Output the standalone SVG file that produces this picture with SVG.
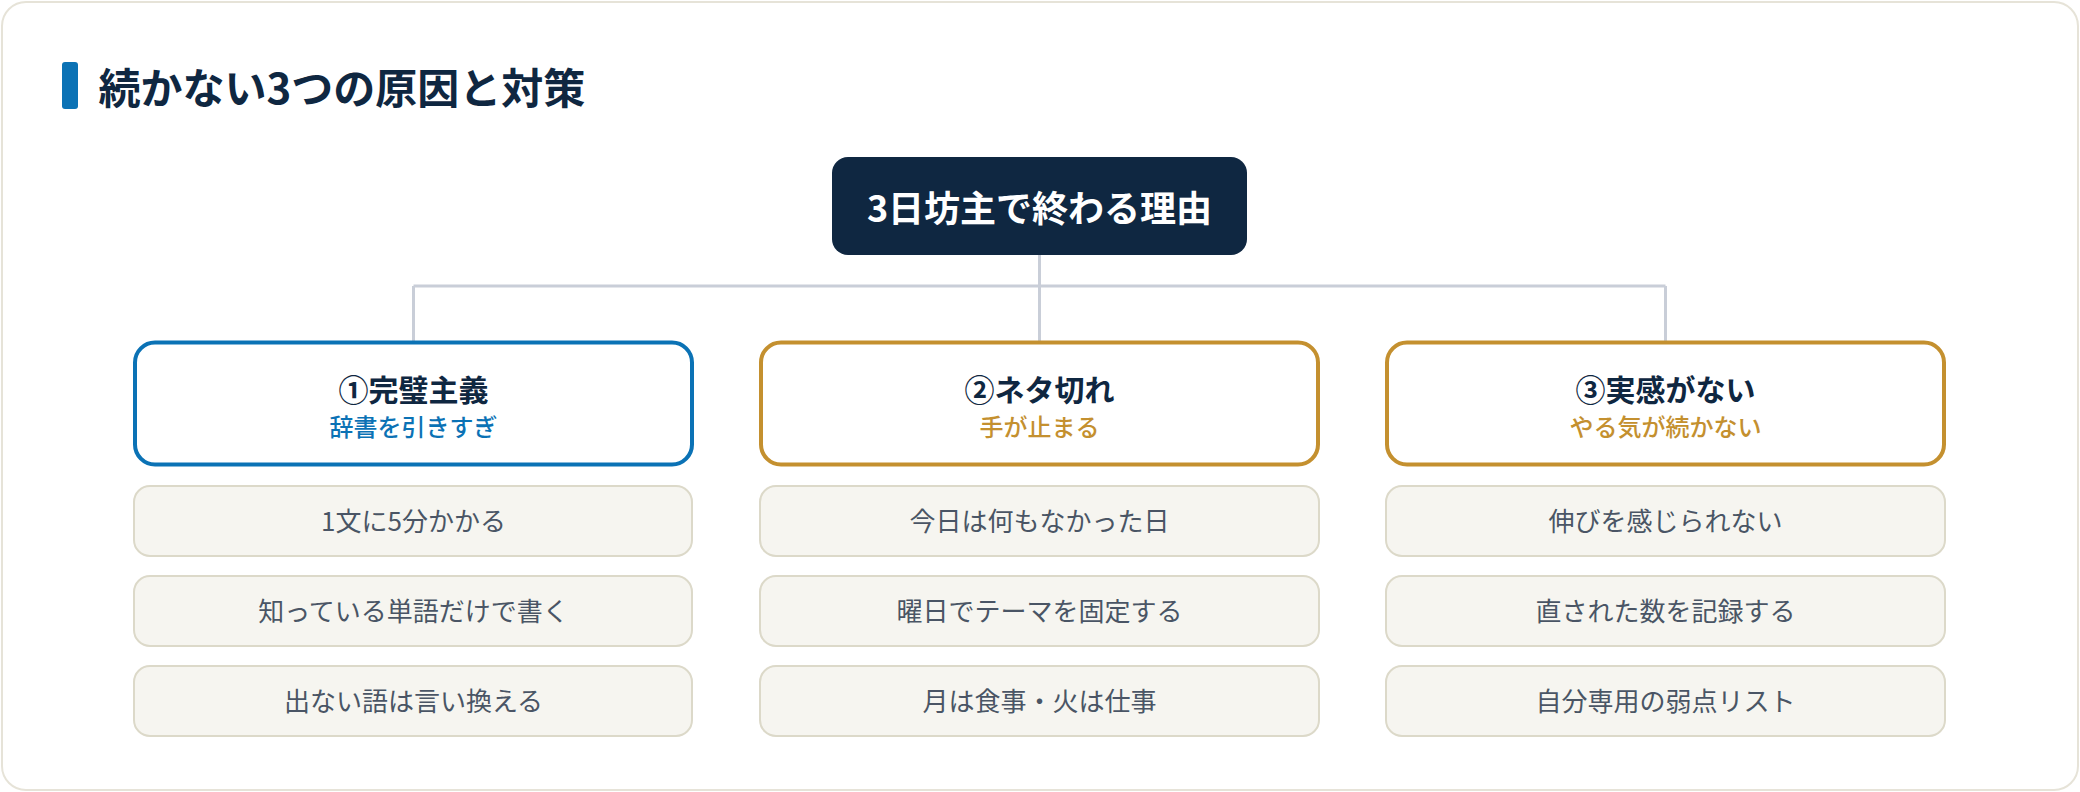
<svg xmlns="http://www.w3.org/2000/svg" width="2080" height="792" viewBox="0 0 2080 792">
<style>
text{font-family:"Noto Sans CJK JP","Noto Sans",sans-serif;text-anchor:middle}
.h1{font-size:42px;font-weight:700;fill:#0f2741;text-anchor:start}
.root{font-size:36px;font-weight:700;fill:#ffffff}
.ct{font-size:30px;font-weight:700;fill:#0f2741}
.cs{font-size:24px;font-weight:500}
.it{font-size:26px;font-weight:400;fill:#4a5565}
.card{fill:#ffffff;stroke-width:4}
.blue{stroke:#0b72b5}
.gold{stroke:#c4902f}
.item{fill:#f6f5f0;stroke:#dcd9c9;stroke-width:2}
.conn{stroke:#c9ced8;stroke-width:3;fill:none}
</style>
<rect x="2" y="2" width="2076" height="788" rx="24" fill="#ffffff" stroke="#e6e3d8" stroke-width="2"/>
<g id="title">
<rect x="62" y="62" width="16" height="47" rx="3" fill="#0b72b5"/>
<text class="h1" x="98.5" y="104">続かない3つの原因と対策</text>
</g>
<g id="connectors">
<path class="conn" d="M1039.5 255 V341 M413.5 286 H1665.5 M413.5 286 V341 M1665.5 286 V341"/>
</g>
<g id="root">
<rect x="832" y="157" width="415" height="98" rx="16" fill="#0f2741"/>
<text class="root" x="1039.5" y="222">3日坊主で終わる理由</text>
</g>
<g id="cause1">
<rect class="card blue" x="135" y="342.5" width="557" height="122" rx="20"/>
<text class="ct" x="413.5" y="400.5">①完璧主義</text>
<text class="cs" x="413.5" y="436" fill="#0b72b5">辞書を引きすぎ</text>
</g>
<g id="cause1-items">
<rect class="item" x="134" y="486" width="558" height="70" rx="16"/>
<text class="it" x="413.5" y="531">1文に5分かかる</text>
<rect class="item" x="134" y="576" width="558" height="70" rx="16"/>
<text class="it" x="413.5" y="621">知っている単語だけで書く</text>
<rect class="item" x="134" y="666" width="558" height="70" rx="16"/>
<text class="it" x="413.5" y="711">出ない語は言い換える</text>
</g>
<g id="cause2">
<rect class="card gold" x="761" y="342.5" width="557" height="122" rx="20"/>
<text class="ct" x="1039.5" y="400.5">②ネタ切れ</text>
<text class="cs" x="1039.5" y="436" fill="#c4902f">手が止まる</text>
</g>
<g id="cause2-items">
<rect class="item" x="760" y="486" width="559" height="70" rx="16"/>
<text class="it" x="1039.5" y="531">今日は何もなかった日</text>
<rect class="item" x="760" y="576" width="559" height="70" rx="16"/>
<text class="it" x="1039.5" y="621">曜日でテーマを固定する</text>
<rect class="item" x="760" y="666" width="559" height="70" rx="16"/>
<text class="it" x="1039.5" y="711">月は食事・火は仕事</text>
</g>
<g id="cause3">
<rect class="card gold" x="1387" y="342.5" width="557" height="122" rx="20"/>
<text class="ct" x="1665.5" y="400.5">③実感がない</text>
<text class="cs" x="1665.5" y="436" fill="#c4902f">やる気が続かない</text>
</g>
<g id="cause3-items">
<rect class="item" x="1386" y="486" width="559" height="70" rx="16"/>
<text class="it" x="1665.5" y="531">伸びを感じられない</text>
<rect class="item" x="1386" y="576" width="559" height="70" rx="16"/>
<text class="it" x="1665.5" y="621">直された数を記録する</text>
<rect class="item" x="1386" y="666" width="559" height="70" rx="16"/>
<text class="it" x="1665.5" y="711">自分専用の弱点リスト</text>
</g>
</svg>
